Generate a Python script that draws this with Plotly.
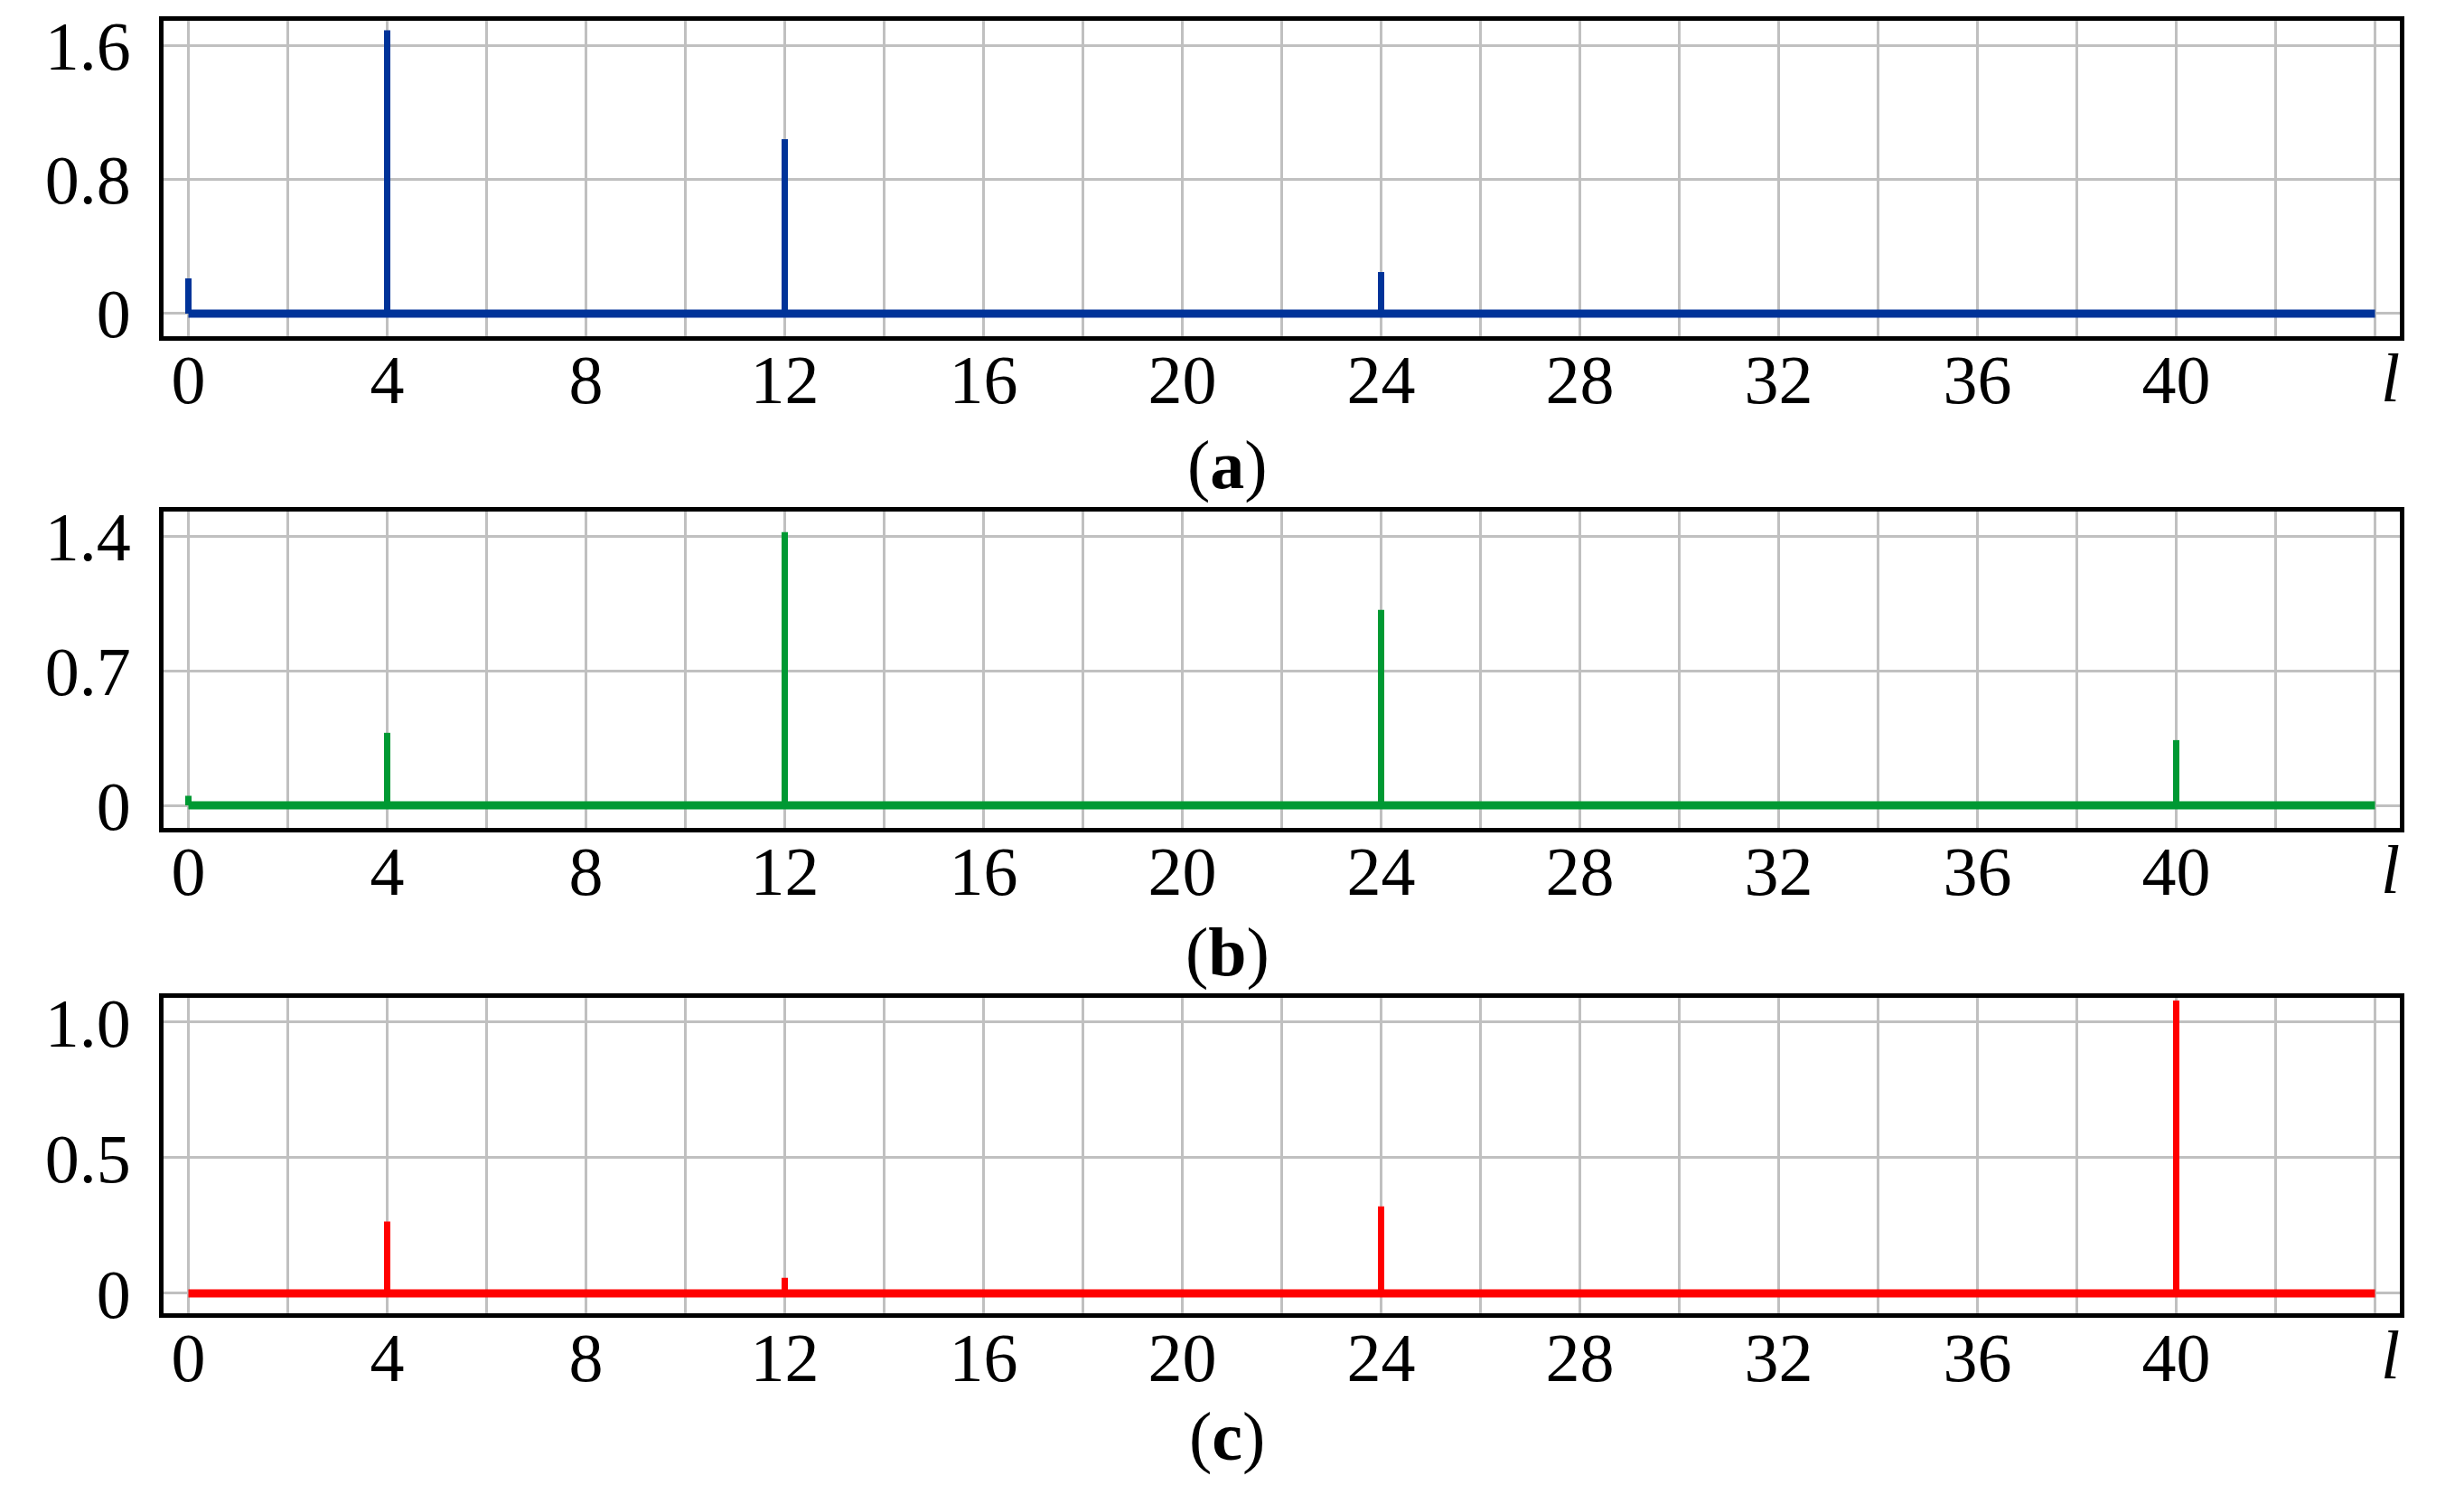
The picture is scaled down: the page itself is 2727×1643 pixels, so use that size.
import plotly.graph_objects as go

# ---- data ----
l_peaks = [0, 4, 12, 24, 40]
vals_a = [0.21, 1.69, 1.04, 0.247, 0.012]
vals_b = [0.05, 0.378, 1.424, 1.019, 0.34]
vals_c = [0.0, 0.265, 0.057, 0.321, 1.08]
l_start, l_end = 0, 44

x_tick_vals = list(range(0, 46, 2))
x_tick_text = [str(v) if (v % 4 == 0 and v <= 40) else "" for v in x_tick_vals]

y_ticks_a = [0, 0.8, 1.6]
y_ticks_b = [0, 0.7, 1.4]
y_ticks_c = [0, 0.5, 1.0]
y_text_a = ["0", "0.8", "1.6"]
y_text_b = ["0", "0.7", "1.4"]
y_text_c = ["0", "0.5", "1.0"]

panel_labels = ["(<b>a</b>)", "(<b>b</b>)", "(<b>c</b>)"]
colors = ["#003399", "#009933", "#ff0000"]

PAGE_W, PAGE_H = 2727, 1643
OFF = 8  # default page body margin
W, H = PAGE_W - 2 * OFF, PAGE_H - 2 * OFF
FONT = "Liberation Serif"
FS = 76

panels = [
    dict(vals=vals_a, yt=y_ticks_a, ytt=y_text_a, yr=[-0.133, 1.747], top=9, bot=365, lab_y=511),
    dict(vals=vals_b, yt=y_ticks_b, ytt=y_text_b, yr=[-0.117, 1.529], top=564, bot=921, lab_y=1062),
    dict(vals=vals_c, yt=y_ticks_c, ytt=y_text_c, yr=[-0.075, 1.09], top=1113, bot=1470, lab_y=1609),
]

fig = go.Figure()
x_dom = [(181 - OFF) / W, (2656 - OFF) / W]

for i, p in enumerate(panels):
    n = "" if i == 0 else str(i + 1)
    xa, ya = "x" + n, "y" + n
    col = colors[i]
    # baseline
    fig.add_trace(go.Scatter(x=[l_start, l_end], y=[0, 0], mode="lines",
                             line=dict(color=col, width=9), xaxis=xa, yaxis=ya,
                             showlegend=False, hoverinfo="skip"))
    # stems
    sx, sy = [], []
    for l, v in zip(l_peaks, p["vals"]):
        sx += [l, l, None]
        sy += [0, v, None]
    fig.add_trace(go.Scatter(x=sx, y=sy, mode="lines",
                             line=dict(color=col, width=7), xaxis=xa, yaxis=ya,
                             showlegend=False))
    dom_y = [max(0.0, 1 - (p["bot"] - OFF) / H), min(1.0, 1 - (p["top"] - OFF) / H)]
    axcommon = dict(showline=True, mirror=True, linecolor="black", linewidth=5,
                    showgrid=True, gridcolor="#c0c0c0", gridwidth=3, zeroline=False,
                    ticks="", tickfont=dict(family=FONT, size=FS, color="black"))
    fig.layout["xaxis" + n] = dict(domain=x_dom, range=[-0.5, 44.5], anchor=ya,
                                   tickmode="array", tickvals=x_tick_vals, ticktext=x_tick_text,
                                   ticklabelstandoff=-22, **axcommon)
    fig.layout["yaxis" + n] = dict(domain=dom_y, range=p["yr"], anchor=xa,
                                   tickmode="array", tickvals=p["yt"], ticktext=p["ytt"],
                                   ticklabelstandoff=16, **axcommon)
    # italic l label
    fig.add_annotation(x=44.3, y=p["yr"][0], xref=xa, yref=ya, text="<i>l</i>",
                       showarrow=False, yanchor="middle", yshift=-46,
                       font=dict(family=FONT, size=FS, color="black"))
    # panel label
    fig.add_annotation(x=(1358 - OFF) / W, y=1 - (p["lab_y"] - OFF) / H, xref="paper", yref="paper",
                       text=panel_labels[i], showarrow=False, xanchor="center", yanchor="middle",
                       font=dict(family=FONT, size=FS, color="black"))

fig.update_layout(width=W, height=H, margin=dict(l=0, r=0, t=0, b=0),
                  paper_bgcolor="white", plot_bgcolor="white")
fig.write_html("out.html")
